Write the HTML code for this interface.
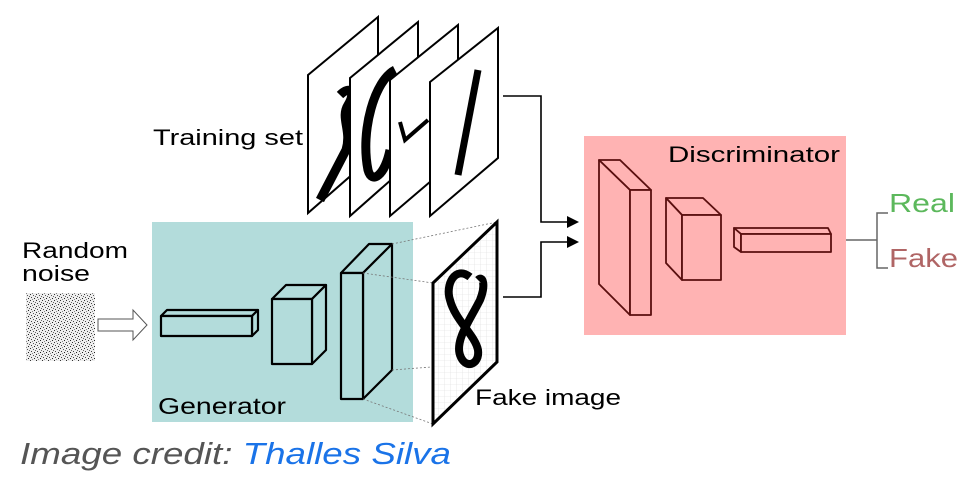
<!DOCTYPE html>
<html><head><meta charset="utf-8"><style>
html,body{margin:0;padding:0;background:#fff;}
svg{display:block;}
text{font-family:"Liberation Sans",sans-serif;}
</style></head><body>
<svg width="971" height="477" viewBox="0 0 971 477" xmlns="http://www.w3.org/2000/svg">
<defs>
<pattern id="noise" width="6" height="6" patternUnits="userSpaceOnUse">
<rect width="6" height="6" fill="#eee"/>
<rect x="0" y="0" width="1" height="1" fill="#333"/><rect x="3" y="1" width="1" height="1" fill="#555"/>
<rect x="1" y="3" width="1" height="1" fill="#444"/><rect x="4" y="4" width="1" height="1" fill="#222"/>
<rect x="2" y="5" width="1" height="1" fill="#888"/><rect x="5" y="2" width="1" height="1" fill="#666"/>
</pattern>
<pattern id="grid" width="6" height="6" patternUnits="userSpaceOnUse">
<rect width="6" height="6" fill="#fff"/><path d="M0 0H6M0 0V6" stroke="#ddd" stroke-width="0.6"/>
</pattern>
</defs>

<!-- Training set frames -->
<g stroke="#000" stroke-width="2" fill="#fff">
<polygon points="308,75 378,17 378,152 308,213"/>
<path d="M340,95 C350,85 356,92 348,105 C340,118 352,130 346,150 L320,200" fill="none" stroke-width="9"/>
<polygon points="350,78 418,22 418,156 350,216"/>
<path d="M395,70 C375,80 360,130 368,170 C372,185 385,175 390,150" fill="none" stroke-width="9"/>
<polygon points="390,80 458,25 458,158 390,216"/>
<path d="M400,122 L405,140 L428,120" fill="none" stroke-width="4"/>
<polygon points="430,82 498,28 498,158 430,216"/>
<path d="M478,70 L458,175" fill="none" stroke-width="7"/>
</g>
<text x="153" y="145" font-size="22" textLength="150" lengthAdjust="spacingAndGlyphs">Training set</text>

<!-- Generator -->
<rect x="152" y="222" width="261" height="200" fill="#b3dcdb"/>
<text x="158" y="414" font-size="23" textLength="128" lengthAdjust="spacingAndGlyphs">Generator</text>
<text x="22" y="258" font-size="22" textLength="106" lengthAdjust="spacingAndGlyphs">Random</text>
<text x="22" y="281" font-size="22" textLength="68" lengthAdjust="spacingAndGlyphs">noise</text>
<rect x="26" y="293" width="69" height="68" fill="url(#noise)"/>
<polygon points="98,319 133,319 133,310 147,325 133,340 133,331 98,331" fill="#fff" stroke="#555" stroke-width="1"/>

<g stroke="#000" stroke-width="2.2" fill="#b3dcdb" stroke-linejoin="round">
<polygon points="161,316 167,310 258,310 252,316"/>
<polygon points="252,316 258,310 258,330 252,336"/>
<rect x="161" y="316" width="91" height="20"/>
<polygon points="272,299 286,285 326,285 312,299"/>
<polygon points="312,299 326,285 326,350 312,364"/>
<rect x="272" y="299" width="40" height="65"/>
<polygon points="341,273 369,244 392,244 363,273"/>
<polygon points="363,273 392,244 392,370 363,399"/>
<rect x="341" y="273" width="22" height="126"/>
</g>
<g stroke="#777" stroke-width="0.8" stroke-dasharray="2,2">
<line x1="392" y1="244" x2="497" y2="222"/>
<line x1="363" y1="273" x2="433" y2="283"/>
<line x1="392" y1="370" x2="497" y2="362"/>
<line x1="363" y1="399" x2="433" y2="424"/>
</g>
<!-- Fake image -->
<polygon points="433,283 497,222 497,362 433,424" fill="url(#grid)" stroke="#000" stroke-width="3"/>
<path d="M470,277 C455,265 445,285 450,300 C455,320 475,335 478,350 C480,365 465,370 460,355 C455,340 470,320 480,300 C486,285 483,275 478,280" fill="none" stroke="#000" stroke-width="8"/>
<text x="475" y="405" font-size="22" textLength="146" lengthAdjust="spacingAndGlyphs">Fake image</text>

<!-- connectors -->
<g stroke="#000" stroke-width="1.6" fill="none">
<polyline points="503,96 541,96 541,222 568,222"/>
<polyline points="503,297 541,297 541,242 568,242"/>
</g>
<polygon points="567,216 579,222 567,228" fill="#000"/>
<polygon points="567,236 579,242 567,248" fill="#000"/>

<!-- Discriminator -->
<rect x="584" y="136" width="262" height="199" fill="#ffb3b3"/>
<text x="668" y="162" font-size="22" textLength="172" lengthAdjust="spacingAndGlyphs">Discriminator</text>
<g stroke="#5a0f0f" stroke-width="1.8" fill="#ffb3b3" stroke-linejoin="round">
<polygon points="599,160 620,160 651,190 630,190"/>
<polygon points="599,160 630,190 630,315 599,284"/>
<rect x="630" y="190" width="21" height="125"/>
<polygon points="666,198 703,198 721,215 682,215"/>
<polygon points="666,198 682,215 682,280 666,263"/>
<rect x="682" y="215" width="39" height="65"/>
<polygon points="734,228 828,228 831,234 741,234"/>
<polygon points="734,228 741,234 741,252 734,247"/>
<rect x="741" y="234" width="90" height="18"/>
</g>
<g stroke="#666" stroke-width="1.5" fill="none">
<line x1="846" y1="240" x2="877" y2="240"/>
<polyline points="888,213 877,213 877,268 888,268"/>
</g>
<text x="889" y="212" font-size="26" fill="#5cb85c" textLength="66" lengthAdjust="spacingAndGlyphs">Real</text>
<text x="889" y="267" font-size="26" fill="#b06565" textLength="69" lengthAdjust="spacingAndGlyphs">Fake</text>

<text x="20" y="464" font-size="31" font-style="italic" fill="#555" textLength="431" lengthAdjust="spacingAndGlyphs">Image credit: <tspan fill="#1a73e8">Thalles Silva</tspan></text>
</svg>
</body></html>
